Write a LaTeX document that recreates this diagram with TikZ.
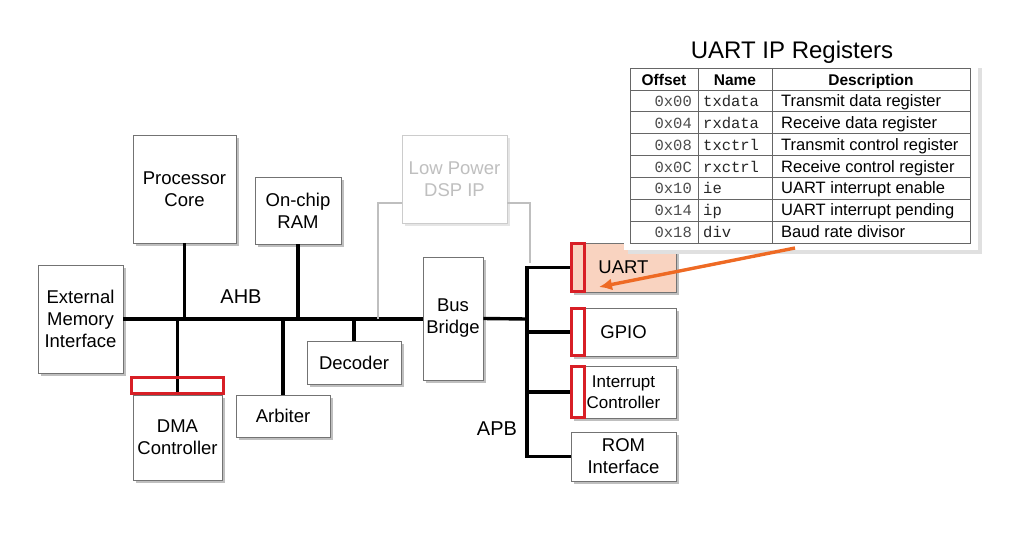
\documentclass[tikz,border=0pt]{standalone}
\usepackage{fontspec}
\setmainfont{Liberation Sans}
\newfontfamily\regmono{Liberation Mono}
\usetikzlibrary{shadows,arrows.meta}
\definecolor{peach}{HTML}{F9D3C0}
\definecolor{arroworange}{HTML}{EE6A24}
\definecolor{pinred}{HTML}{D81F26}
\begin{document}
\begin{tikzpicture}[x=1pt,y=-1pt]
\tikzset{
 blk/.style={draw=black!55,fill=white,line width=0.9pt,align=center,font=\fontsize{18.5}{22}\selectfont,
  inner sep=0pt,drop shadow={shadow xshift=3pt,shadow yshift=-3pt,fill=black!25,opacity=1}},
 bus/.style={line width=3.4pt,black},
 pin/.style={draw=pinred,line width=2.6pt},
 cell/.style={inner sep=0pt,font=\fontsize{16.5}{18}\selectfont},
 mono/.style={cell,font=\regmono\fontsize{15.5}{18}\selectfont}
}
\useasboundingbox (0,0) rectangle (1024,536);
% AHB side
\node[blk,minimum width=85pt,minimum height=108pt] (ext) at (80.5,319) {External\\Memory\\Interface};
\node[blk,minimum width=103pt,minimum height=108pt] (core) at (184.5,189) {Processor\\Core};
\node[blk,minimum width=86pt,minimum height=67pt] (ram) at (298,210.5) {On-chip\\RAM};
\node[blk,draw=black!20,text=black!25,minimum width=105pt,minimum height=88pt,
 drop shadow={shadow xshift=3pt,shadow yshift=-3pt,fill=black!10,opacity=1}] (dsp) at (454.5,179) {Low Power\\DSP IP};
\node[blk,minimum width=60pt,minimum height=123pt] (bridge) at (453,318.5) {Bus\\Bridge};
\node[blk,minimum width=94pt,minimum height=43pt] (dec) at (354,362.5) {Decoder};
\node[blk,minimum width=94pt,minimum height=42pt] (arb) at (283,416) {Arbiter};
\node[blk,minimum width=89pt,minimum height=85pt,text depth=-10pt] (dma) at (177.5,437.5) {DMA\\Controller};
\node[font=\fontsize{20}{22}\selectfont] (ahb) at (241,297) {AHB};
\node[font=\fontsize{20}{22}\selectfont] (apb) at (497,429) {APB};
% AHB wires
\draw[bus] (ext.east) -- (bridge.west |- ext.east);
\draw[bus] (core.south) -- (core.south |- ext.east);
\draw[bus] (ram.south) -- (ram.south |- ext.east);
\draw[bus] (dma.north) -- (dma.north |- ext.east);
\draw[bus] (arb.north) -- (arb.north |- ext.east);
\draw[bus] (dec.north) -- (dec.north |- ext.east);
\draw[black!25,line width=2.6pt] (378,319) |- (dsp.west |- 0,203);
\draw[black!25,line width=2.6pt] (dsp.east |- 0,203) -| (530,263);
% APB peripherals
\node[blk,fill=peach,minimum width=105pt,minimum height=49pt] (uart) at (623.5,267.5) {UART};
\node[blk,minimum width=105pt,minimum height=48pt] (gpio) at (623.5,332) {GPIO};
\node[blk,minimum width=105pt,minimum height=52pt,font=\fontsize{17}{21}\selectfont] (irq) at (623.5,392) {Interrupt\\Controller};
\node[blk,minimum width=105pt,minimum height=49pt] (rom) at (623.5,456.5) {ROM\\Interface};
\coordinate (apbtop) at (527,266);
\coordinate (apbbot) at (527,458);
\draw[bus] (bridge.east) -- (527,319);
\draw[bus] (apbtop) -- (apbbot);
\foreach \p in {uart,gpio,irq,rom}
 \draw[bus] (527,0 |- \p.west) -- (\p.west);
\foreach \p in {uart,gpio,irq}
 \draw[pin] ([xshift=1pt,yshift=-1pt]\p.north west) rectangle ([xshift=14pt,yshift=1pt]\p.south west);
\draw[pin] ([xshift=-1pt,yshift=1pt]dma.north west) rectangle ([xshift=1pt,yshift=17pt]dma.north east);
% register table
\node[font=\fontsize{24}{26}\selectfont] (title) at (792,52) {UART IP Registers};
\fill[white,drop shadow={shadow xshift=4pt,shadow yshift=-4pt,fill=black!12,opacity=1}] (624,64) rectangle (978,250);
\draw[black!60,line width=0.8pt] (630,68) rectangle (970,243);
\draw[black!60,line width=0.8pt] (698,68) -- (698,243) (772,68) -- (772,243);
\foreach \i in {0,...,6}
 \draw[black!60,line width=0.8pt] (630,90+\i*21.857) -- (970,90+\i*21.857);
\node[cell,anchor=base,font=\bfseries\fontsize{15.5}{18}\selectfont] (hoff) at (664,85) {Offset};
\node[cell,anchor=base,font=\bfseries\fontsize{15.5}{18}\selectfont] (hname) at (735,85) {Name};
\node[cell,anchor=base,font=\bfseries\fontsize{15.5}{18}\selectfont] (hdesc) at (871,85) {Description};
\foreach \off/\nm/\ds [count=\i from 0] in {0x00/txdata/Transmit data register,0x04/rxdata/Receive data register,
 0x08/txctrl/Transmit control register,0x0C/rxctrl/Receive control register,0x10/ie/UART interrupt enable,
 0x14/ip/UART interrupt pending,0x18/div/Baud rate divisor}{
 \node[mono,anchor=base east,text=black!70] (off\i) at (692,106.5+\i*21.857) {\off};
 \node[mono,anchor=base west,text=black!85] (nm\i) at (703,106.5+\i*21.857) {\nm};
 \node[cell,anchor=base west] (ds\i) at (781,106.5+\i*21.857) {\ds};
}
\coordinate (tail) at (795,248);
\coordinate (head) at (599,287);
\draw[arroworange,line width=3.4pt,-{Latex[length=13pt,width=12pt]}] (tail) -- (head);
\end{tikzpicture}
\end{document}
